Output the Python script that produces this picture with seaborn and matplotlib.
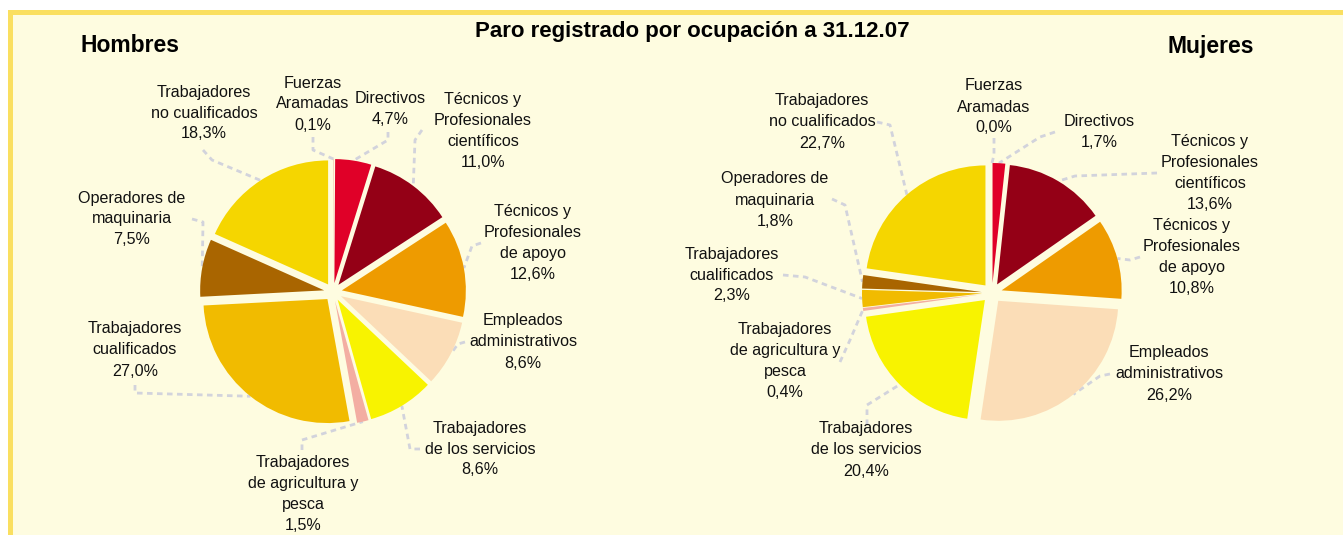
import matplotlib
matplotlib.use("Agg")
import matplotlib.pyplot as plt
from matplotlib.patches import Rectangle
import seaborn as sns
import numpy as np

# Data: paro registrado por ocupación a 31.12.07 (%), clockwise from 12 o'clock
occupations = [
    "Fuerzas\nAramadas",
    "Directivos",
    "Técnicos y\nProfesionales\ncientíficos",
    "Técnicos y\nProfesionales\nde apoyo",
    "Empleados\nadministrativos",
    "Trabajadores\nde los servicios",
    "Trabajadores\nde agricultura y\npesca",
    "Trabajadores\ncualificados",
    "Operadores de\nmaquinaria",
    "Trabajadores\nno cualificados",
]
hombres = [0.1, 4.7, 11.0, 12.6, 8.6, 8.6, 1.5, 27.0, 7.5, 18.3]
mujeres = [0.0, 1.7, 13.6, 10.8, 26.2, 20.4, 0.4, 2.3, 1.8, 22.7]

title = "Paro registrado por ocupación a 31.12.07"

sns.set_style("white")
plt.rcParams['font.family'] = ['Liberation Sans', 'DejaVu Sans']

colors = sns.color_palette([
    "#f3c8b0", "#e00028", "#940016", "#ee9b00", "#fbddb7",
    "#f8f300", "#f3aea2", "#f1bb00", "#a96500", "#f5d600",
])

W, H = 1343, 535
BG = "#fefce0"
BORDER = "#fadf60"
LEADER = "#d2d3dc"


def fy(y):
    # figure pixel row (from top) -> data y
    return H - y


# layout per pie: centre, radius, explode (px), label centres and leader start/elbow (pixels)
layouts = {
    "Hombres": dict(
        center=(333, 292), radius=124, explode=9,
        labels=[(313, 104), (390, 109), (483, 131), (533, 243), (523, 342),
                (480, 449), (303, 494), (135, 350), (132, 219), (204, 113)],
        leaders=[((313, 137), (313, 150)), ((388, 132), (388, 140)),
                 ((422, 130), (415, 140)), ((481, 243), (472, 246)),
                 ((465, 342), (458, 344)), ((420, 449), (410, 449)),
                 ((302, 450), (302, 440)), ((135, 385), (135, 393)),
                 ((192, 219), (203, 222)), ((203, 150), (212, 160))],
    ),
    "Mujeres": dict(
        center=(992, 293), radius=120, explode=10,
        labels=[(994, 107), (1099, 132), (1210, 173), (1192, 257), (1169, 374),
                (866, 450), (785, 361), (732, 275), (775, 200), (822, 122)],
        leaders=[((994, 138), (994, 155)), ((1055, 132), (1040, 137)),
                 ((1157, 173), (1075, 176)), ((1140, 257), (1130, 260)),
                 ((1110, 374), (1100, 376)), ((867, 425), (867, 405)),
                 ((840, 362), (850, 340)), ((783, 275), (805, 277)),
                 ((832, 199), (845, 205)), ((877, 122), (890, 125))],
    ),
}

fig = plt.figure(figsize=(W / 100, H / 100), dpi=100, facecolor="white")
ax = fig.add_axes([0, 0, 1, 1])

# cream panel with yellow border on left and top
ax.add_patch(Rectangle((9.5, -20), W + 50, fy(12) + 20, facecolor=BG,
                       edgecolor=BORDER, linewidth=3.6, zorder=0))

for name, values in [("Hombres", hombres), ("Mujeres", mujeres)]:
    lay = layouts[name]
    cx, cy = lay["center"]
    wedges, _ = ax.pie(values, explode=[lay["explode"]] * len(values),
                       colors=colors, startangle=90, counterclock=False,
                       center=(cx, fy(cy)), radius=lay["radius"],
                       wedgeprops=dict(linewidth=0), frame=True)
    for w in wedges:
        w.set_zorder(3)

    for occ, val, w, (lx, ly), (start, elbow) in zip(
            occupations, values, wedges, lay["labels"], lay["leaders"]):
        txt = f"{occ}\n{val:.1f}%".replace(".", ",")
        ax.text(lx, fy(ly), txt, ha="center", va="center", fontsize=11.6,
                color="#111111", linespacing=1.5, zorder=5)
        mid = np.deg2rad((w.theta1 + w.theta2) / 2)
        ex = w.center[0] + w.r * np.cos(mid)
        ey = w.center[1] + w.r * np.sin(mid)
        ax.plot([start[0], elbow[0], ex], [fy(start[1]), fy(elbow[1]), ey],
                color=LEADER, linewidth=2, linestyle=(0, (2.0, 1.6)),
                zorder=2, solid_capstyle="butt")

ax.text(692, fy(31), title, ha="center", va="center", fontsize=16,
        fontweight="bold", color="black")
ax.text(130, fy(46), "Hombres", ha="center", va="center", fontsize=16.5,
        fontweight="bold", color="black")
ax.text(1211, fy(46), "Mujeres", ha="center", va="center", fontsize=16.5,
        fontweight="bold", color="black")

ax.set_xlim(0, W)
ax.set_ylim(0, H)
ax.set_aspect("auto")
ax.axis("off")

fig.savefig("out.png", dpi=100, facecolor="white")
